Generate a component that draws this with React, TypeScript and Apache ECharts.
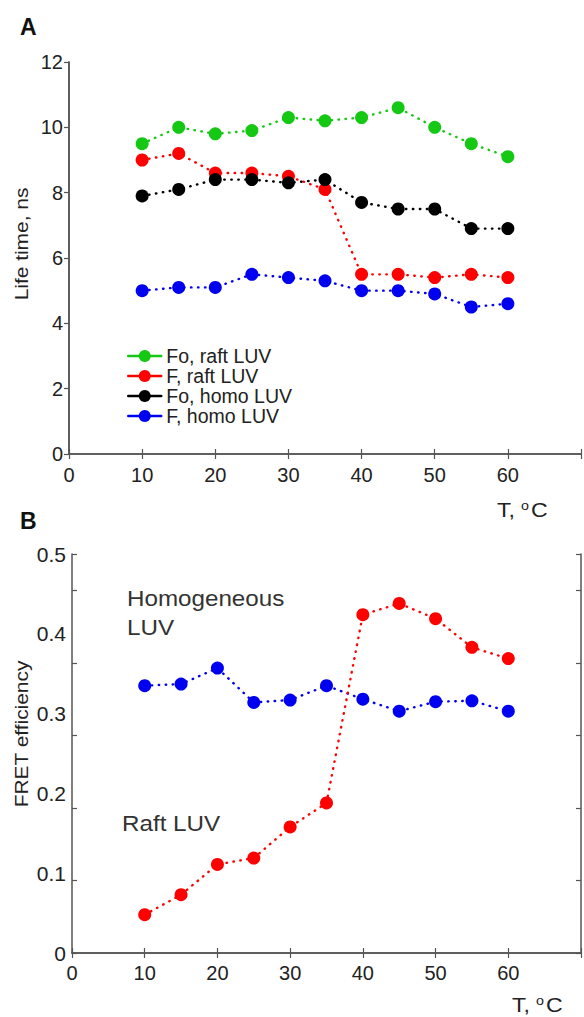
import React, { useEffect, useRef } from "react";
import * as echarts from "echarts";

const temps = [10, 15, 20, 25, 30, 35, 40, 45, 50, 55, 60];

// Panel A: life time, ns
const foRaft = [9.5, 10.0, 9.8, 9.9, 10.3, 10.2, 10.3, 10.6, 10.0, 9.5, 9.1];
const fRaft = [9.0, 9.2, 8.6, 8.6, 8.5, 8.1, 5.5, 5.5, 5.4, 5.5, 5.4];
const foHomo = [7.9, 8.1, 8.4, 8.4, 8.3, 8.4, 7.7, 7.5, 7.5, 6.9, 6.9];
const fHomo = [5.0, 5.1, 5.1, 5.5, 5.4, 5.3, 5.0, 5.0, 4.9, 4.5, 4.6];

// Panel B: FRET efficiency
const fretHomo = [0.335, 0.337, 0.357, 0.314, 0.317, 0.335, 0.318, 0.303, 0.315, 0.316, 0.303];
const fretRaft = [0.048, 0.073, 0.111, 0.119, 0.158, 0.188, 0.424, 0.438, 0.419, 0.383, 0.369];

const legendNames = ["Fo, raft LUV", "F, raft LUV", "Fo, homo LUV", "F, homo LUV"];
const colors = ["#14c814", "#ff0000", "#000000", "#0000f0"];

const FONT = "Liberation Sans, Arial, Helvetica, sans-serif";
const AXIS_COLOR = "#555";
const TEXT_COLOR = "#222";
const SX = 1.1;

const pairs = (ys: number[]) => temps.map((t, i) => [t, ys[i]]);

function dottedSeries(name: string, data: number[][], color: string, xi: number, yi: number) {
  return {
    name,
    type: "line",
    xAxisIndex: xi,
    yAxisIndex: yi,
    data,
    symbol: "circle",
    symbolSize: 13,
    itemStyle: { color },
    lineStyle: { color, width: 2.4, type: [0.5, 6.5], cap: "round" },
    z: 3,
  };
}

export default function App() {
  const ref = useRef<HTMLDivElement>(null);
  useEffect(() => {
    document.body.style.margin = "0";
    if (!ref.current) return;
    const chart = echarts.init(ref.current, undefined, { renderer: "svg" });
    const axisLine = { show: true, lineStyle: { color: AXIS_COLOR, width: 1.5 } };
    const tickIn = { show: true, inside: true, length: 5, lineStyle: { color: AXIS_COLOR, width: 1.2 } };
    const xLabel = (size: number, margin: number) => ({
      show: true,
      fontSize: size,
      fontFamily: FONT,
      color: TEXT_COLOR,
      margin,
      formatter: (v: number) => (v > 60 ? "" : String(v)),
    });
    const txt = (x: number, y: number, text: string, size: number, extra: any = {}) => ({
      type: "text",
      x,
      y,
      scaleX: SX,
      ...extra,
      style: { text, fontSize: size, fontFamily: FONT, fill: TEXT_COLOR, verticalAlign: "middle", ...(extra.style || {}) },
    });
    const option: any = {
      animation: false,
      backgroundColor: "#fff",
      grid: [
        { left: 69, top: 62, width: 518, height: 392 },
        { left: 72, top: 554, width: 511, height: 399 },
      ],
      xAxis: [
        { gridIndex: 0, type: "value", min: 0, max: 70, interval: 10, position: "bottom", axisLine, axisTick: tickIn, axisLabel: xLabel(20, 11), splitLine: { show: false } },
        { gridIndex: 0, type: "value", min: 0, max: 70, interval: 10, position: "top", axisLine, axisTick: tickIn, axisLabel: { show: false }, splitLine: { show: false } },
        { gridIndex: 1, type: "value", min: 0, max: 70, interval: 10, position: "bottom", axisLine, axisTick: tickIn, axisLabel: xLabel(20, 10), splitLine: { show: false } },
        { gridIndex: 1, type: "value", min: 0, max: 70, interval: 10, position: "top", axisLine, axisTick: tickIn, axisLabel: { show: false }, splitLine: { show: false } },
      ],
      yAxis: [
        { gridIndex: 0, type: "value", min: 0, max: 12, interval: 2, position: "left", axisLine, axisTick: { show: false }, axisLabel: { fontSize: 20, fontFamily: FONT, color: TEXT_COLOR, margin: 6 }, splitLine: { show: false } },
        { gridIndex: 0, type: "value", min: 0, max: 12, interval: 2, position: "right", axisLine, axisTick: tickIn, axisLabel: { show: false }, splitLine: { show: false } },
        { gridIndex: 1, type: "value", min: 0, max: 0.5, interval: 0.1, position: "left", axisLine, axisTick: { show: false }, axisLabel: { fontSize: 21, fontFamily: FONT, color: TEXT_COLOR, margin: 6, formatter: (v: number) => (v === 0 ? "0" : v.toFixed(1)) }, splitLine: { show: false } },
        { gridIndex: 1, type: "value", min: 0, max: 0.55, interval: 0.1, position: "left", axisLine: { show: false }, axisTick: tickIn, axisLabel: { show: false }, splitLine: { show: false } },
        { gridIndex: 1, type: "value", min: 0, max: 0.55, interval: 0.1, position: "right", axisLine, axisTick: tickIn, axisLabel: { show: false }, splitLine: { show: false } },
      ],
      legend: {
        data: legendNames,
        orient: "vertical",
        left: 127,
        top: 346,
        itemWidth: 33,
        itemHeight: 15,
        itemGap: 0,
        padding: 0,
        lineStyle: { type: "solid", width: 2.5 },
        textStyle: { fontSize: 19.5, fontFamily: FONT, color: TEXT_COLOR, lineHeight: 18.5 },
      },
      series: [
        dottedSeries(legendNames[0], pairs(foRaft), colors[0], 0, 0),
        dottedSeries(legendNames[1], pairs(fRaft), colors[1], 0, 0),
        dottedSeries(legendNames[2], pairs(foHomo), colors[2], 0, 0),
        dottedSeries(legendNames[3], pairs(fHomo), colors[3], 0, 0),
        dottedSeries("FRET homo", pairs(fretHomo), colors[3], 2, 2),
        dottedSeries("FRET raft", pairs(fretRaft), colors[1], 2, 2),
      ],
      graphic: [
        { type: "text", left: 20, top: 15, style: { text: "A", fontSize: 23, fontWeight: "bold", fontFamily: FONT, fill: "#111" } },
        { type: "text", left: 20, top: 509, style: { text: "B", fontSize: 23, fontWeight: "bold", fontFamily: FONT, fill: "#111" } },
        { type: "text", x: 21, y: 244, rotation: Math.PI / 2, scaleX: SX, style: { text: "Life time, ns", fontSize: 19, fontFamily: FONT, fill: TEXT_COLOR, align: "center", verticalAlign: "middle" } },
        { type: "text", x: 21, y: 734, rotation: Math.PI / 2, scaleX: SX, style: { text: "FRET efficiency", fontSize: 19, fontFamily: FONT, fill: TEXT_COLOR, align: "center", verticalAlign: "middle" } },
        // T, oC for panel A
        txt(497, 510, "T,", 21),
        txt(521, 506, "o", 13),
        txt(531, 510, "C", 21),
        // T, oC for panel B
        txt(512, 1005, "T,", 21),
        txt(536, 1001, "o", 13),
        txt(546, 1005, "C", 21),
        txt(127, 598, "Homogeneous", 22, { style: { fill: "#333" } }),
        txt(127, 627, "LUV", 22, { style: { fill: "#333" } }),
        txt(122, 823, "Raft LUV", 22, { style: { fill: "#333" } }),
      ],
    };
    chart.setOption(option);
    return () => chart.dispose();
  }, []);
  return <div ref={ref} style={{ width: 584, height: 1017 }} />;
}
